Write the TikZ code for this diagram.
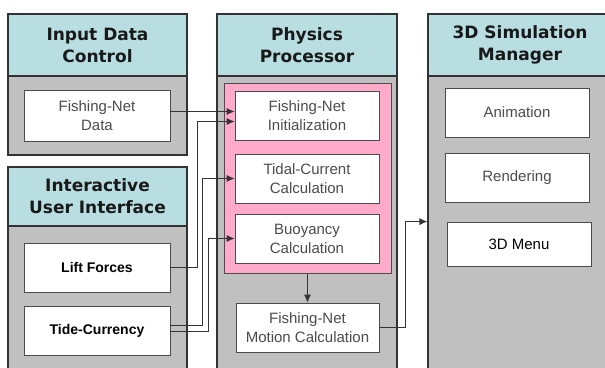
\documentclass[tikz,border=0pt]{standalone}
\usepackage{fontspec}
\setmainfont{Liberation Sans}
\newfontfamily\titlefont{DejaVu Sans}
\usetikzlibrary{arrows.meta}
\definecolor{headcol}{RGB}{184,222,226}
\definecolor{bodycol}{RGB}{192,192,192}
\definecolor{pinkcol}{RGB}{255,170,200}
\begin{document}
\begin{tikzpicture}[x=1pt, y=-1pt]
 \tikzstyle{entete}=[rectangle, draw=black!80, fill=headcol, line width=1.2pt, inner sep=0pt, minimum width=179pt, minimum height=62pt, align=center, text=black!90, font=\titlefont\fontsize{17}{22}\selectfont\bfseries]
 \tikzstyle{corps}=[rectangle, draw=black!80, fill=bodycol, line width=1.2pt, inner sep=0pt, minimum width=179pt]
 \tikzstyle{boite}=[rectangle, draw=black!70, fill=white, line width=0.8pt, inner sep=0pt, minimum width=145pt, minimum height=49pt, align=center, text=black!70, font=\fontsize{15}{19}\selectfont]
 \tikzstyle{fleche}=[->, >={Latex[length=8pt,width=7pt]}, draw=black!80, line width=0.8pt]
 %
 \useasboundingbox (0,0) rectangle (605,367);
 \clip (0,0) rectangle (605,367);
 %
 \node[corps, minimum height=79pt] (inbody) at (97.5,115.5) {};
 \node[entete] (inhdr) at (97.5,45) {Input Data\\Control};
 \node[corps, minimum height=148pt] (uibody) at (97.5,300) {};
 \node[entete, minimum height=59pt] (uihdr) at (97.5,196.5) {Interactive\\User Interface};
 \node[corps, minimum width=180pt, minimum height=298pt] (phbody) at (307,225) {};
 \node[entete, minimum width=180pt] (phhdr) at (307,45) {Physics\\Processor};
 \node[corps, minimum width=184pt, minimum height=298pt] (smbody) at (520,225) {};
 \node[entete, minimum width=184pt] (smhdr) at (520,45) {3D Simulation\\Manager};
 \node[rectangle, draw=black!70, fill=pinkcol, line width=1pt, minimum width=167pt, minimum height=190pt, inner sep=0pt] (pink) at (307.5,178) {};
 %
 \node[boite, minimum width=146pt, minimum height=51pt] (fnd) at (97,115.5) {Fishing-Net\\Data};
 \node[boite, minimum width=146pt, text=black, font=\fontsize{14}{18}\selectfont\bfseries] (lift) at (97,267.5) {Lift Forces};
 \node[boite, minimum width=146pt, text=black, font=\fontsize{14}{18}\selectfont\bfseries] (tide) at (97,330.5) {Tide-Currency};
 %
 \node[boite, minimum width=144pt] (init) at (307,115.5) {Fishing-Net\\Initialization};
 \node[boite, minimum width=144pt] (tidal) at (307,178.5) {Tidal-Current\\Calculation};
 \node[boite, minimum width=144pt] (buoy) at (307,238.5) {Buoyancy\\Calculation};
 \node[boite, minimum width=143pt] (motion) at (307.5,327.5) {Fishing-Net\\Motion Calculation};
 %
 \node[boite, minimum width=144pt] (anim) at (517,112.5) {Animation};
 \node[boite, minimum width=144pt] (rend) at (517,177.5) {Rendering};
 \node[boite, minimum width=144pt, minimum height=44pt, text=black] (menu) at (519,244) {3D Menu};
 %%
 \coordinate (in1) at ([yshift=4pt]init.west);
 \coordinate (in2) at ([yshift=-6pt]init.west);
 \coordinate (sm1) at (smbody.west |- menu.north);
 \draw[fleche] (fnd.east |- in1) -- (in1);
 \draw[fleche] (lift.east) -- ++(27,0) |- (in2);
 \draw[fleche] ([yshift=5pt]tide.east) -- ++(32,0) |- (tidal.west);
 \draw[fleche] ([yshift=-1pt]tide.east) -- ++(38,0) |- (buoy.west);
 \draw[fleche] (pink.south) -- (motion.north);
 \draw[fleche] (motion.east) -- ++(26,0) |- (sm1);
\end{tikzpicture}
\end{document}
